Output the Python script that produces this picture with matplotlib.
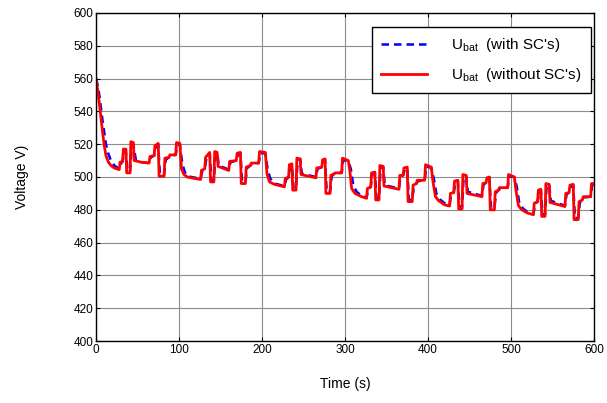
import matplotlib
matplotlib.use('Agg')
import matplotlib.pyplot as plt

plt.rcParams['font.family'] = ['Liberation Sans', 'DejaVu Sans']
plt.rcParams['mathtext.fontset'] = 'custom'
plt.rcParams['mathtext.rm'] = 'Liberation Sans'

# battery voltage without supercapacitors (time in s, voltage in V)
t_bat = [0, 2, 4, 6, 8, 10, 12, 15, 18, 22, 28,
         29, 32, 33, 36, 37, 41, 42, 45, 46, 55, 64, 65, 70, 71, 75, 76, 82, 83, 88, 89, 96, 97,
         101, 103, 106, 110, 120, 126, 127, 131, 132, 137, 138, 142, 143, 146, 147, 160, 161,
         169, 170, 174, 175, 180, 181, 186, 187, 196, 197,
         204, 206, 209, 215, 227, 228, 232, 233, 236, 237, 241, 242, 246, 247, 265, 266, 272,
         273, 276, 277, 282, 283, 287, 288, 296, 297,
         304, 306, 308, 312, 320, 326, 327, 331, 332, 336, 337, 341, 342, 346, 347, 365, 366,
         370, 371, 375, 376, 381, 382, 386, 387, 396, 397,
         404, 406, 409, 413, 420, 426, 427, 431, 432, 436, 437, 441, 442, 446, 447, 465, 466,
         470, 471, 474, 475, 480, 481, 485, 486, 496, 497,
         504, 506, 509, 513, 520, 527, 528, 532, 533, 536, 537, 541, 542, 546, 547, 565, 566,
         570, 571, 575, 576, 581, 582, 586, 587, 596, 597, 600]
u_bat = [560, 553, 545, 536, 527, 519, 513, 509, 507, 505.5, 504.5,
         509, 509.5, 517, 517, 502.5, 502.5, 521.5, 521, 510, 509, 508.5, 512.5, 513, 519, 520.5,
         500.5, 500.5, 511.5, 512, 513.5, 513.5, 521,
         520.5, 505, 501.5, 500, 499, 498.5, 504, 505, 512, 515, 497, 497, 515.5, 515, 506.5,
         504, 509.5, 510, 514.5, 515, 496, 496, 506, 507, 508.5, 508.5, 515.5,
         515, 502, 497, 495.5, 494, 499, 500, 507.5, 508, 492, 492, 511.5, 511, 501.5, 499.5,
         505.5, 506, 510.5, 511, 490, 490, 501, 502, 502.5, 502.5, 511.5,
         510, 503, 493, 490, 488, 487, 493, 494, 502.5, 503, 486, 486, 507, 506.5, 494.5, 492.5,
         501, 501, 505.5, 506, 485, 485, 495, 496, 498, 498, 507.5,
         506, 497, 488, 485.5, 483, 482.3, 490, 490.5, 497.5, 498, 480.5, 480.5, 501.5, 501,
         490, 488, 496, 496.5, 499.5, 500, 480, 480, 491, 492, 493.5, 493.5, 501.5,
         500, 492, 482.5, 480, 478, 477, 484, 485, 492, 492.5, 476, 476, 496, 495.5, 484.5,
         482, 490, 490.5, 495, 495.5, 474, 474, 485, 486, 488, 488, 496, 496]

# battery voltage with supercapacitors
t_sc = [0, 2, 4, 6, 8, 10, 12, 15, 18, 22, 28,
        30, 32, 34, 36, 38, 41, 43, 45, 48, 55, 64, 66, 70, 72, 75, 77, 82, 84, 88, 90, 96, 98,
        101, 104, 107, 110, 120, 126, 128, 131, 133, 137, 139, 142, 144, 146, 148, 160, 162,
        169, 171, 174, 176, 180, 182, 186, 188, 196, 198,
        204, 207, 210, 215, 227, 229, 232, 234, 236, 238, 241, 243, 246, 248, 265, 267, 272,
        274, 276, 278, 282, 284, 287, 289, 296, 298,
        304, 307, 310, 314, 320, 326, 328, 331, 333, 336, 338, 341, 343, 346, 348, 365, 367,
        370, 372, 375, 377, 381, 383, 386, 388, 396, 398,
        404, 407, 410, 414, 420, 426, 428, 431, 433, 436, 438, 441, 443, 446, 448, 465, 467,
        470, 472, 474, 476, 480, 482, 485, 487, 496, 498,
        504, 507, 510, 514, 520, 527, 529, 532, 534, 536, 538, 541, 543, 546, 548, 565, 567,
        570, 572, 575, 577, 581, 583, 586, 588, 596, 598, 600]
u_sc = [560, 556, 550, 542, 534, 527, 520, 514, 510, 507, 505,
        508, 509.5, 515, 516, 503.5, 503.5, 519, 520, 510.5, 509, 508.5, 512, 513, 518, 519.5,
        501.5, 501.5, 510.5, 512, 513, 513.5, 519.5,
        520, 508, 503, 500.5, 499.5, 499, 503.5, 505, 511, 514.5, 498, 498, 514, 514.5, 507,
        504.5, 509, 510, 513.5, 514.5, 497, 497, 505.5, 507, 508, 508.5, 514.5,
        514.5, 504, 499, 496, 494.5, 498.5, 500, 506.5, 507.5, 493, 493, 510.5, 511, 502,
        500, 505, 506, 509.5, 510.5, 491, 491, 500.5, 502, 502.5, 502.5, 510.5,
        509.5, 505, 495, 491, 488.5, 487.5, 492.5, 494, 501.5, 502.5, 487, 487, 506, 506,
        495, 493, 500.5, 501, 504.5, 505.5, 486, 486, 494.5, 496, 497.5, 498, 506.5,
        505.5, 499, 490, 486.5, 484, 483, 489.5, 490.5, 496.5, 497.5, 481.5, 481.5, 500.5,
        500.5, 491, 488.5, 495.5, 496.5, 498.5, 499.5, 481, 481, 490.5, 492, 493, 493.5, 500.5,
        500, 494, 484, 481, 478.5, 477.5, 483.5, 485, 491, 492, 477, 477, 495, 495.5, 485.5,
        482.5, 489.5, 490.5, 494, 495, 475, 475, 484.5, 486, 487.5, 488, 495.5, 495.5]

x_ticks = [0, 100, 200, 300, 400, 500, 600]
y_ticks = [400, 420, 440, 460, 480, 500, 520, 540, 560, 580, 600]

fig = plt.figure(figsize=(6.07, 4.03), dpi=100)
ax = fig.add_axes([96 / 607, 1 - 341 / 403, 498 / 607, 328 / 403])

ax.plot(t_sc, u_sc, color='#0000ff', linestyle='--', linewidth=1.8,
        dashes=(3, 2), label=r"$\mathregular{U_{bat}}$  (with SC's)")
ax.plot(t_bat, u_bat, color='#ff0000', linewidth=2.0,
        label=r"$\mathregular{U_{bat}}$  (without SC's)")

ax.set_xlim(0, 600)
ax.set_ylim(400, 600)
ax.set_xticks(x_ticks)
ax.set_yticks(y_ticks)
ax.tick_params(direction='in', length=3, width=0.8, labelsize=8.5, top=True, right=True,
               pad=2, colors='black')
ax.grid(True, color='#8c8c8c', linewidth=0.8)
ax.set_axisbelow(True)
for s in ax.spines.values():
    s.set_linewidth(1.0)
    s.set_color('black')

ax.set_xlabel('Time (s)', fontsize=10, labelpad=15)
ax.set_ylabel('Voltage V)', fontsize=10, labelpad=32)

leg = ax.legend(loc='upper right', bbox_to_anchor=(0.994, 0.958), fontsize=11,
                fancybox=False, framealpha=1, edgecolor='black', handlelength=3.0,
                borderpad=0.6, labelspacing=0.8, handletextpad=1.6, borderaxespad=0)
leg.get_frame().set_linewidth(1.0)

fig.savefig('out.png', dpi=100)
